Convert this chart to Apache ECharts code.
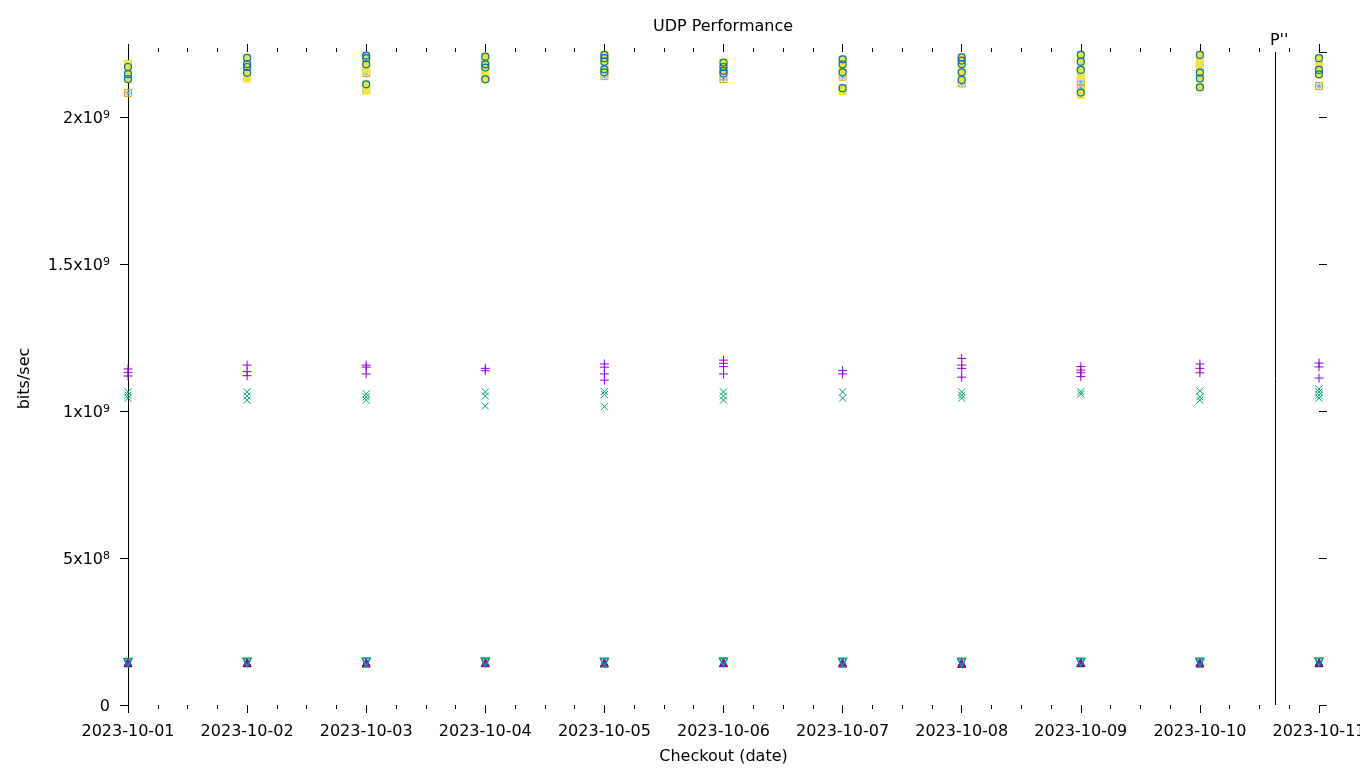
<!DOCTYPE html>
<html>
<head>
<meta charset="utf-8">
<script src="https://cdn.jsdelivr.net/npm/echarts@6/dist/echarts.min.js"></script>
<style>html,body{margin:0;padding:0;background:#fff}#c{width:1360px;height:768px}</style>
</head>
<body>
<div id="c"></div>
<script>
// ---- data (bits/sec), one inner list per checkout date ----
const days = ['2023-10-01','2023-10-02','2023-10-03','2023-10-04','2023-10-05','2023-10-06','2023-10-07','2023-10-08','2023-10-09','2023-10-10','2023-10-11'];
const markerDate = '2023-10-10T15:10:00Z';
const markerLabel = "P''";
const yTicks = [0, 5e8, 1e9, 1.5e9, 2e9];

const purplePlus = [
  [1.143e9,1.131e9,1.119e9],[1.156e9,1.134e9,1.120e9],[1.156e9,1.149e9,1.126e9],[1.145e9,1.137e9],
  [1.160e9,1.149e9,1.126e9,1.105e9],[1.173e9,1.162e9,1.151e9,1.126e9],[1.137e9,1.126e9],
  [1.179e9,1.156e9,1.145e9,1.115e9],[1.151e9,1.139e9,1.130e9,1.117e9],[1.160e9,1.145e9,1.130e9],[1.163e9,1.150e9,1.112e9]
];
const greenCross = [
  [1.065e9,1.054e9,1.044e9],[1.065e9,1.051e9,1.037e9],[1.058e9,1.048e9,1.037e9],[1.065e9,1.051e9,1.017e9],
  [1.066e9,1.056e9,1.015e9],[1.065e9,1.051e9,1.037e9],[1.065e9,1.044e9],[1.065e9,1.054e9,1.044e9],
  [1.066e9,1.058e9],[1.068e9,1.048e9,1.037e9],[1.075e9,1.065e9,1.054e9,1.044e9]
];
const lightBlueStar = [
  [2.082e9],[2.163e9],[2.149e9,2.092e9],[2.135e9],[2.139e9],[2.129e9],[2.137e9],[2.114e9],[2.120e9,2.098e9],[2.180e9,2.170e9],[2.105e9]
];
const orangeSquare = [
  [2.082e9],[2.163e9],[2.149e9,2.092e9],[2.135e9],[2.139e9],[2.129e9],[2.137e9],[2.114e9],[2.120e9,2.098e9],[2.180e9,2.170e9],[2.105e9]
];
const yellowSquare = [
  [2.180e9,2.170e9,2.146e9,2.129e9],[2.201e9,2.180e9,2.170e9,2.150e9,2.131e9],[2.222e9,2.209e9,2.200e9,2.179e9,2.160e9,2.111e9,2.090e9],
  [2.205e9,2.190e9,2.179e9,2.168e9,2.140e9,2.128e9],[2.211e9,2.200e9,2.188e9,2.162e9,2.152e9],[2.185e9,2.170e9,2.157e9,2.148e9],
  [2.196e9,2.179e9,2.165e9,2.152e9,2.098e9,2.088e9],[2.203e9,2.192e9,2.180e9,2.152e9,2.126e9],
  [2.211e9,2.188e9,2.160e9,2.140e9,2.083e9,2.075e9],[2.211e9,2.195e9,2.180e9,2.151e9,2.131e9,2.101e9],[2.200e9,2.175e9,2.160e9,2.145e9]
];
const blueCircle = [
  [2.170e9,2.146e9,2.129e9],[2.201e9,2.180e9,2.170e9,2.150e9],[2.222e9,2.209e9,2.200e9,2.179e9,2.111e9],
  [2.205e9,2.179e9,2.168e9,2.128e9],[2.211e9,2.200e9,2.188e9,2.162e9,2.152e9],[2.185e9,2.170e9,2.157e9,2.148e9],
  [2.196e9,2.179e9,2.152e9,2.098e9],[2.203e9,2.192e9,2.180e9,2.152e9,2.126e9],[2.211e9,2.188e9,2.160e9,2.083e9],
  [2.211e9,2.151e9,2.131e9,2.101e9],[2.200e9,2.160e9,2.145e9]
];
const blackTriangle = [
  [1.44e8],[1.44e8],[1.43e8],[1.44e8],[1.43e8],[1.44e8],[1.43e8],[1.42e8],[1.44e8],[1.43e8],[1.44e8]
];
const purpleTriangle = [
  [1.46e8,1.45e8],[1.46e8,1.45e8],[1.47e8,1.45e8],[1.46e8,1.44e8],[1.46e8,1.45e8],[1.46e8,1.44e8],[1.46e8,1.45e8],[1.46e8,1.44e8],[1.46e8,1.45e8],[1.46e8,1.44e8],[1.46e8,1.45e8]
];
const greenInvTriangle = [
  [1.45e8,1.43e8],[1.46e8,1.44e8],[1.46e8,1.45e8],[1.47e8,1.43e8],[1.46e8,1.44e8],[1.47e8,1.44e8],[1.46e8,1.44e8],[1.46e8,1.43e8],[1.46e8,1.44e8],[1.46e8,1.43e8],[1.46e8,1.45e8]
];

const DAY = 86400000;
const xMin = Date.parse(days[0] + 'T00:00:00Z');
const xMax = Date.parse(days[days.length - 1] + 'T00:00:00Z');
const yMax = 2.221e9;
const FONT = 'DejaVu Sans';
const FS = 16;

function pts(arr) {
  const out = [];
  arr.forEach((vals, i) => {
    const t = Date.parse(days[i] + 'T00:00:00Z');
    vals.forEach(v => out.push([t, v]));
  });
  return out;
}
function outlineSeries(name, data, symbol, size, color, lw) {
  return {
    name, type: 'scatter', data: pts(data), symbol, symbolSize: size,
    itemStyle: { color: 'rgba(0,0,0,0)', borderColor: color, borderWidth: lw || 1, opacity: 1 },
    emphasis: { disabled: true }, silent: true, animation: false
  };
}
function filledSeries(name, data, symbol, size, color) {
  return {
    name, type: 'scatter', data: pts(data), symbol, symbolSize: size,
    itemStyle: { color, opacity: 1 },
    emphasis: { disabled: true }, silent: true, animation: false
  };
}

const PLUS = 'path://M0,5L10,5M5,0L5,10';
const CROSS = 'path://M0,0L10,10M0,10L10,0';
const STAR = 'path://M0,5L10,5M5,0L5,10M1.5,1.5L8.5,8.5M1.5,8.5L8.5,1.5';
const INVTRI = 'path://M0,0L10,0L5,8.66Z';

function fmtY(v) {
  if (v === 0) return '0';
  const e = Math.floor(Math.log10(v) + 1e-9);
  const m = +(v / Math.pow(10, e)).toFixed(2);
  return m + 'x10{s|' + e + '}';
}

const chart = echarts.init(document.getElementById('c'), null, { renderer: 'canvas' });
const axisTextStyle = { color: '#000', fontFamily: FONT, fontSize: FS };

const series = [
  outlineSeries('s1', purplePlus, PLUS, 9, '#9400d3', 1),
  outlineSeries('s2', greenCross, CROSS, 7, '#009e73', 1),
  outlineSeries('s3', lightBlueStar, STAR, 7, '#56b4e9', 1),
  outlineSeries('s4', orangeSquare, 'rect', 7, '#e69f00', 1),
  filledSeries('s5', yellowSquare, 'rect', 8, '#f0e442'),
  outlineSeries('s6', blueCircle, 'circle', 7, '#0072b2', 1.2),
  outlineSeries('s8', blackTriangle, 'triangle', 8, '#000000', 1),
  filledSeries('s9', purpleTriangle, 'triangle', 8, '#9400d3'),
  outlineSeries('s10', greenInvTriangle, INVTRI, 8, '#009e73', 1.2)
];
series[0].markLine = {
  silent: true, symbol: 'none', animation: false,
  lineStyle: { color: '#000', width: 1, type: 'solid' },
  label: { show: true, position: 'end', formatter: markerLabel, color: '#000', fontFamily: FONT, fontSize: FS, distance: 3, offset: [4, 0] },
  data: [{ xAxis: Date.parse(markerDate) }]
};

chart.setOption({
  animation: false,
  backgroundColor: '#fff',
  graphic: [{
    type: 'text', x: 723, y: 27, silent: true,
    style: { text: 'UDP Performance', fill: '#000', font: FS + 'px "' + FONT + '"', align: 'center', verticalAlign: 'middle' }
  }],
  grid: { left: 128, right: 41, top: 52, bottom: 63, containLabel: false, outerBoundsMode: 'none' },
  xAxis: [{
    type: 'value', min: xMin, max: xMax, interval: DAY, position: 'bottom',
    name: 'Checkout (date)', nameLocation: 'middle', nameGap: 44,
    nameTextStyle: axisTextStyle,
    axisLine: { show: false, onZero: false },
    axisTick: { show: true, length: 8, lineStyle: { color: '#000' } },
    minorTick: { show: true, splitNumber: 4, length: 4, lineStyle: { color: '#000' } },
    splitLine: { show: false },
    axisLabel: { ...axisTextStyle, margin: 19, hideOverlap: false, formatter: v => new Date(v).toISOString().slice(0, 10) }
  }, {
    type: 'value', min: xMin, max: xMax, interval: DAY, position: 'top',
    axisLine: { show: false, onZero: false },
    axisTick: { show: true, length: 8, lineStyle: { color: '#000' } },
    minorTick: { show: true, splitNumber: 4, length: 4, lineStyle: { color: '#000' } },
    splitLine: { show: false }, axisLabel: { show: false }
  }],
  yAxis: [{
    type: 'value', min: 0, max: yMax, interval: 5e8, position: 'left',
    name: 'bits/sec', nameLocation: 'middle', nameGap: 95, nameRotate: 90,
    nameTextStyle: axisTextStyle,
    axisLine: { show: true, onZero: false, lineStyle: { color: '#000', width: 1 } },
    axisTick: { show: true, length: 8, lineStyle: { color: '#000' } },
    splitLine: { show: false },
    axisLabel: {
      ...axisTextStyle, margin: 18, formatter: fmtY, showMaxLabel: false, padding: [4, 0, 0, 0],
      rich: { s: { fontFamily: FONT, fontSize: 11, color: '#000', verticalAlign: 'top', padding: [0, 0, 8, 0] } }
    }
  }, {
    type: 'value', min: 0, max: yMax, interval: 5e8, position: 'right',
    axisLine: { show: false, onZero: false },
    axisTick: { show: true, length: 8, lineStyle: { color: '#000' } },
    splitLine: { show: false }, axisLabel: { show: false }
  }],
  series
});
</script>
</body>
</html>
